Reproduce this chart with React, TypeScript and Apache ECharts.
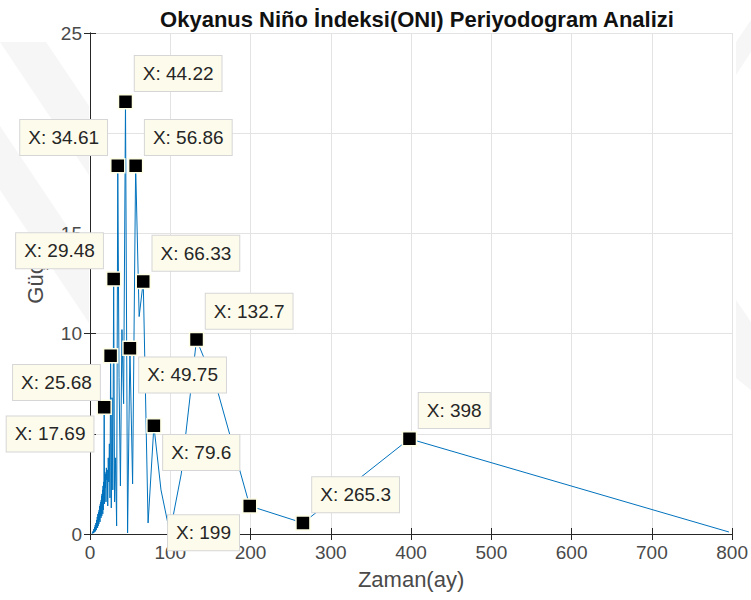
import React, { useEffect, useRef } from "react";
import * as echarts from "echarts";

// Periods (months) and periodogram power, in the order of the frequency index
const periods = [
  796, 398, 265.3, 199, 159.2, 132.7, 113.7, 99.5, 88.44, 79.6, 72.36, 66.33, 61.23,
  56.86, 53.07, 49.75, 46.82, 44.22, 41.89, 39.8, 37.9, 36.18, 34.61, 33.17, 31.84,
  30.62, 29.48, 28.43, 27.45, 26.53, 25.68, 24.88, 24.12, 23.41, 22.74, 22.11, 21.51,
  20.95, 20.41, 19.9, 19.41, 18.95, 18.51, 18.09, 17.69, 17.3, 16.94, 16.58, 16.24,
  15.92, 15.6, 15.3, 15.0, 14.7, 14.5, 14.2, 13.96, 13.72, 13.49, 13.27, 12.84, 12.44,
  12.06, 11.7, 11.37, 11.06, 10.61, 10.2, 9.83, 9.46, 9.04, 8.65, 8.2, 7.8, 7.37, 6.98,
  6.52, 6.12, 5.65, 5.24, 4.79, 4.33, 3.92, 3.5, 3.06, 2.6, 2.2, 2.0,
];
const power = [
  0.1, 4.75, 0.55, 1.4, 7.1, 9.7, 3.0, 0.05, 2.2, 5.4, 0.55, 12.6, 10.85,
  18.37, 2.5, 9.27, 0.05, 21.57, 6.5, 10.2, 2.4, 7.8, 18.37, 0.4, 3.8,
  1.6, 12.73, 2.2, 6.8, 1.3, 8.9, 1.8, 4.5, 2.6, 3.8, 1.4, 3.2,
  2.7, 3.3, 1.6, 3.0, 2.3, 3.1, 1.5, 6.33, 1.9, 2.6, 1.2, 2.4,
  1.0, 2.2, 1.3, 2.0, 0.9, 1.9, 1.1, 1.7, 0.8, 1.6, 0.9, 1.5, 0.6,
  1.4, 0.7, 1.2, 0.5, 1.1, 0.4, 1.0, 0.3, 0.85, 0.3, 0.7, 0.2, 0.55, 0.15,
  0.45, 0.1, 0.35, 0.08, 0.25, 0.05, 0.15, 0.03, 0.08, 0.02, 0.04, 0.01,
];

// Data tips
const tipPeriods = [44.22, 34.61, 56.86, 29.48, 66.33, 132.7, 49.75, 25.68, 17.69, 79.6, 199, 265.3, 398];
const tipTexts = ["44.22", "34.61", "56.86", "29.48", "66.33", "132.7", "49.75", "25.68", "17.69", "79.6", "199", "265.3", "398"];
const tipPlacement = ["ur", "ul", "ur", "ul", "ur", "ur", "dr", "dl", "dl", "dr", "dl", "ur", "ur"];

const xTicks = { min: 0, max: 800, interval: 100 };
const yTicks = { min: 0, max: 25, interval: 5 };

const FONT = "'Liberation Sans', Arial, Helvetica, sans-serif";

export default function App() {
  const ref = useRef<HTMLDivElement>(null);

  useEffect(() => {
    if (!ref.current) return;
    const chart = echarts.init(ref.current, null, { renderer: "svg" });

    const lineData = periods.map((p, i) => [p, power[i]]);
    const placeMap: Record<string, any> = {
      ur: { position: [17, -3], align: "left", verticalAlign: "bottom" },
      ul: { position: [-3, -3], align: "right", verticalAlign: "bottom" },
      dr: { position: [17, 17], align: "left", verticalAlign: "top" },
      dl: { position: [-3, 17], align: "right", verticalAlign: "top" },
    };
    const tipData = tipPeriods.map((p, i) => {
      const idx = periods.indexOf(p);
      const pl = placeMap[tipPlacement[i]];
      return {
        value: [p, power[idx]],
        name: tipTexts[i],
        label: { position: pl.position, align: pl.align, verticalAlign: pl.verticalAlign },
      };
    });

    const wm = "#F6F6F6";
    const option: any = {
      animation: false,
      backgroundColor: "#ffffff",
      title: {
        text: "Okyanus Niño İndeksi(ONI) Periyodogram Analizi",
        left: 412,
        textAlign: "center",
        top: 3,
        textStyle: { fontFamily: FONT, fontSize: 22, fontWeight: "bold", color: "#111111" },
      },
      graphic: [
        { type: "polygon", z: -10, shape: { points: [[0, 42], [46, 42], [89, 106], [89, 175]] }, style: { fill: wm } },
        { type: "polygon", z: -10, shape: { points: [[0, 126], [89, 259], [89, 323], [0, 190]] }, style: { fill: wm } },
        { type: "polygon", z: -10, shape: { points: [[736, 75], [751, 52], [751, 20], [736, 42]] }, style: { fill: wm } },
        { type: "polygon", z: -10, shape: { points: [[736, 300], [751, 322], [751, 390], [736, 378]] }, style: { fill: wm } },
      ],
      grid: {
        left: 90,
        right: 17,
        top: 33,
        bottom: 66,
        show: true,
        backgroundColor: "#ffffff",
        borderWidth: 0,
      },
      xAxis: [
        {
          type: "value",
          min: xTicks.min,
          max: xTicks.max,
          interval: xTicks.interval,
          position: "bottom",
          name: "Zaman(ay)",
          nameLocation: "middle",
          nameGap: 34,
          nameTextStyle: { fontFamily: FONT, fontSize: 22, color: "#4a4a4a" },
          axisLine: { show: true, lineStyle: { color: "#262626", width: 1 } },
          axisTick: { show: true, inside: true, length: 6, lineStyle: { color: "#262626" } },
          axisLabel: { fontFamily: FONT, fontSize: 19, color: "#4a4a4a", margin: 9 },
          splitLine: { show: true, lineStyle: { color: "#E3E3E3", width: 1 } },
        },
        {
          type: "value",
          min: xTicks.min,
          max: xTicks.max,
          interval: xTicks.interval,
          position: "top",
          axisLine: { show: true, lineStyle: { color: "#262626", width: 1 } },
          axisTick: { show: true, inside: true, length: 6, lineStyle: { color: "#262626" } },
          axisLabel: { show: false },
          splitLine: { show: false },
        },
      ],
      yAxis: [
        {
          type: "value",
          min: yTicks.min,
          max: yTicks.max,
          interval: yTicks.interval,
          position: "left",
          name: "Güç",
          nameLocation: "middle",
          nameGap: 44,
          nameRotate: 90,
          nameTextStyle: { fontFamily: FONT, fontSize: 22, color: "#4a4a4a" },
          axisLine: { show: true, lineStyle: { color: "#262626", width: 1 } },
          axisTick: { show: true, inside: true, length: 6, lineStyle: { color: "#262626" } },
          axisLabel: { fontFamily: FONT, fontSize: 19, color: "#4a4a4a", margin: 8 },
          splitLine: { show: true, lineStyle: { color: "#E3E3E3", width: 1 } },
        },
        {
          type: "value",
          min: yTicks.min,
          max: yTicks.max,
          interval: yTicks.interval,
          position: "right",
          axisLine: { show: true, lineStyle: { color: "#262626", width: 1 } },
          axisTick: { show: true, inside: true, length: 6, lineStyle: { color: "#262626" } },
          axisLabel: { show: false },
          splitLine: { show: false },
        },
      ],
      series: [
        {
          type: "line",
          data: lineData,
          showSymbol: false,
          symbol: "none",
          lineStyle: { color: "#0072BD", width: 1 },
          z: 2,
        },
        {
          type: "scatter",
          data: tipData,
          symbol: "rect",
          symbolSize: 14,
          itemStyle: { color: "#000000", borderColor: "#FFFFE6", borderWidth: 1.5, opacity: 1 },
          z: 5,
          label: {
            show: true,
            formatter: (p: any) => "X: " + p.name,
            fontFamily: FONT,
            fontSize: 19,
            lineHeight: 23,
            color: "#262626",
            backgroundColor: "#FDFCEC",
            borderColor: "#D6D6D6",
            borderWidth: 1,
            padding: [6, 8, 6, 8],
          },
          labelLayout: { hideOverlap: false },
        },
      ],
    };

    chart.setOption(option);
    return () => chart.dispose();
  }, []);

  return <div ref={ref} style={{ width: 751, height: 600, position: "absolute", left: 0, top: 0 }} />;
}
